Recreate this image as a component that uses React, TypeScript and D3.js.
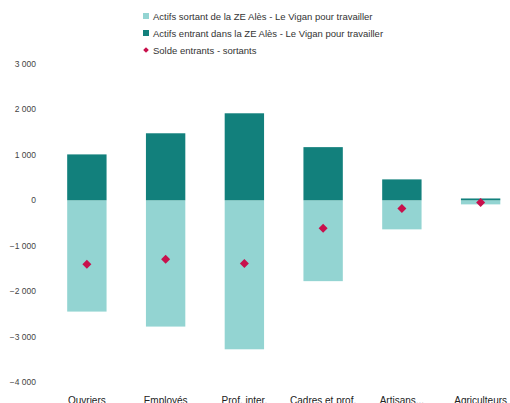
import React, { useRef, useEffect } from 'react';
import * as d3 from 'd3';

const categories = ['Ouvriers', 'Employés', 'Prof. inter.', 'Cadres et prof.', 'Artisans...', 'Agriculteurs'];
const sortants = [-2450, -2780, -3280, -1780, -640, -90];
const entrants = [1010, 1475, 1915, 1170, 460, 40];
const solde = [-1410, -1300, -1390, -615, -180, -50];
const yTicks = [3000, 2000, 1000, 0, -1000, -2000, -3000, -4000];
const legendLabels = [
  'Actifs sortant de la ZE Alès - Le Vigan pour travailler',
  'Actifs entrant dans la ZE Alès - Le Vigan pour travailler',
  'Solde entrants - sortants',
];

const LIGHT = '#93d4d2';
const DARK = '#12807c';
const RED = '#c8104c';

const App = () => {
  const ref = useRef(null);

  useEffect(() => {
    const width = 510;
    const height = 403;
    const svg = d3.select(ref.current);
    svg.selectAll('*').remove();

    const y = d3.scaleLinear().domain([-4000, 3000]).range([382, 64]);
    const x = d3.scaleBand()
      .domain(categories)
      .range([47.5, 520])
      .paddingInner(0.5)
      .paddingOuter(0.25);

    const fmt = (v) => d3.format(',')(v).replace(/,/g, ' ');

    // y axis labels only, no axis line
    svg.append('g')
      .selectAll('text')
      .data(yTicks)
      .enter()
      .append('text')
      .attr('x', 36)
      .attr('y', d => y(d) + 3)
      .attr('text-anchor', 'end')
      .style('font-size', '8.5px')
      .style('fill', '#444')
      .text(d => fmt(d));

    const g = svg.append('g');

    // sortants (negative, light)
    g.selectAll('rect.out')
      .data(sortants)
      .enter()
      .append('rect')
      .attr('x', (d, i) => x(categories[i]))
      .attr('y', y(0))
      .attr('width', x.bandwidth())
      .attr('height', d => y(d) - y(0))
      .attr('fill', LIGHT);

    // entrants (positive, dark)
    g.selectAll('rect.in')
      .data(entrants)
      .enter()
      .append('rect')
      .attr('x', (d, i) => x(categories[i]))
      .attr('y', d => y(d))
      .attr('width', x.bandwidth())
      .attr('height', d => y(0) - y(d))
      .attr('fill', DARK);

    // solde markers: square turned 45deg
    const marker = d3.symbol().type(d3.symbolSquare).size(40);
    g.selectAll('path.solde')
      .data(solde)
      .enter()
      .append('path')
      .attr('d', marker)
      .attr('transform', (d, i) => `translate(${x(categories[i]) + x.bandwidth() / 2},${y(d)}) rotate(45)`)
      .attr('fill', RED);

    // category labels (cut at the bottom like the original)
    svg.append('g')
      .selectAll('text')
      .data(categories)
      .enter()
      .append('text')
      .attr('x', d => x(d) + x.bandwidth() / 2)
      .attr('y', 404)
      .attr('text-anchor', 'middle')
      .style('font-size', '10px')
      .style('fill', '#222')
      .text(d => d);

    // legend
    const leg = svg.append('g').attr('transform', 'translate(143,0)');
    const legColors = [LIGHT, DARK, RED];
    legendLabels.forEach((label, i) => {
      const cy = 16 + i * 17;
      if (i < 2) {
        leg.append('rect')
          .attr('x', 0)
          .attr('y', cy - 3)
          .attr('width', 6)
          .attr('height', 6)
          .attr('fill', legColors[i]);
      } else {
        leg.append('path')
          .attr('d', d3.symbol().type(d3.symbolSquare).size(16))
          .attr('transform', `translate(3,${cy}) rotate(45)`)
          .attr('fill', RED);
      }
      leg.append('text')
        .attr('x', 10)
        .attr('y', cy + 3.5)
        .style('font-size', '9.5px')
        .style('fill', '#333')
        .text(label);
    });

    svg.attr('width', width).attr('height', height);
  }, []);

  return (
    <svg
      ref={ref}
      style={{ position: 'absolute', left: 0, top: 0, fontFamily: 'Liberation Sans, Arial, sans-serif', background: '#fff' }}
    />
  );
};

export default App;
